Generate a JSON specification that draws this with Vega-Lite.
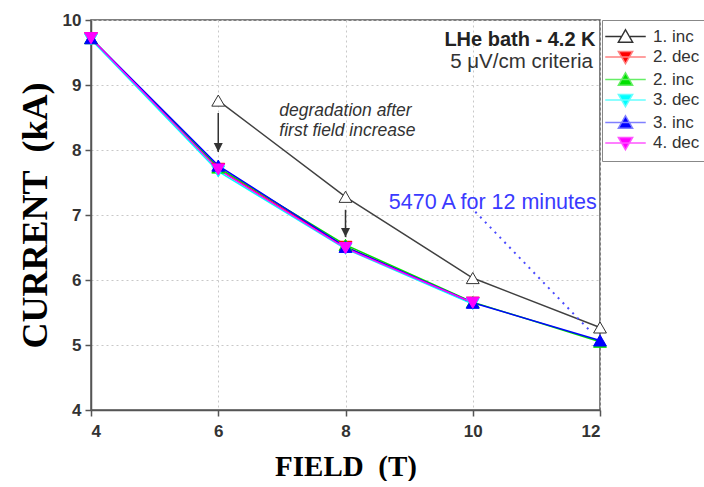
{
  "$schema": "https://vega.github.io/schema/vega-lite/v6.json",
  "width": 509,
  "height": 390,
  "autosize": {"type": "pad"},
  "padding": {"left": 17, "top": 11, "right": 0, "bottom": 0},
  "background": "white",
  "config": {
    "view": {"stroke": "#555", "strokeWidth": 1.5},
    "axis": {
      "domainColor": "#555", "domainWidth": 1.5,
      "tickColor": "#555", "tickWidth": 1.5, "tickSize": 6,
      "labelFont": "Liberation Sans", "labelFontWeight": "bold", "labelFontSize": 17, "labelColor": "#333",
      "titleFont": "Liberation Serif", "titleFontWeight": "bold", "titleColor": "#000",
      "grid": true, "gridColor": "#c8c8c8", "gridDash": [2, 3], "gridWidth": 1
    },
    "legend": {
      "orient": "none", "legendX": 511, "legendY": 0,
      "title": null,
      "strokeColor": "#888", "fillColor": "white", "padding": 8,
      "labelFont": "Liberation Sans", "labelFontSize": 17, "labelColor": "#333",
      "symbolSize": 225, "symbolOpacity": 1, "symbolStrokeWidth": 1.5,
      "symbolOffset": 7, "labelOffset": 19, "rowPadding": 1.5
    }
  },
  "datasets": {
    "curves": [
      {"series": "1. inc", "field": 6, "current": 8.76},
      {"series": "1. inc", "field": 8, "current": 7.28},
      {"series": "1. inc", "field": 10, "current": 6.03},
      {"series": "1. inc", "field": 12, "current": 5.27},
      {"series": "2. dec", "field": 4, "current": 9.72},
      {"series": "2. dec", "field": 6, "current": 7.71},
      {"series": "2. dec", "field": 8, "current": 6.51},
      {"series": "2. dec", "field": 10, "current": 5.65},
      {"series": "2. inc", "field": 4, "current": 9.72},
      {"series": "2. inc", "field": 6, "current": 7.73},
      {"series": "2. inc", "field": 8, "current": 6.54},
      {"series": "2. inc", "field": 10, "current": 5.66},
      {"series": "2. inc", "field": 12, "current": 5.05},
      {"series": "3. dec", "field": 4, "current": 9.70},
      {"series": "3. dec", "field": 6, "current": 7.67},
      {"series": "3. dec", "field": 8, "current": 6.48},
      {"series": "3. dec", "field": 10, "current": 5.63},
      {"series": "3. inc", "field": 4, "current": 9.72},
      {"series": "3. inc", "field": 6, "current": 7.76},
      {"series": "3. inc", "field": 8, "current": 6.51},
      {"series": "3. inc", "field": 10, "current": 5.65},
      {"series": "3. inc", "field": 12, "current": 5.07},
      {"series": "4. dec", "field": 4, "current": 9.72},
      {"series": "4. dec", "field": 6, "current": 7.70},
      {"series": "4. dec", "field": 8, "current": 6.49},
      {"series": "4. dec", "field": 10, "current": 5.65}
    ],
    "arrows": [
      {"field": 6, "from": 8.57, "to": 7.97},
      {"field": 8, "from": 7.08, "to": 6.66}
    ],
    "dotted": [
      {"field": 10.04, "current": 7.05, "field2": 11.86, "current2": 5.2}
    ],
    "titleNotes": [
      {"field": 11.93, "current": 9.69, "text": "LHe bath - 4.2 K"}
    ],
    "subNotes": [
      {"field": 11.89, "current": 9.35, "text": "5 μV/cm criteria"}
    ],
    "italicNotes": [
      {"field": 6.96, "current": 8.6, "text": "degradation after"},
      {"field": 6.96, "current": 8.29, "text": "first field increase"}
    ],
    "blueNotes": [
      {"field": 8.68, "current": 7.18, "text": "5470 A for 12 minutes"}
    ]
  },
  "resolve": {"scale": {"shape": "independent", "fill": "independent", "stroke": "independent"}},
  "layer": [
    {
      "data": {"name": "curves"},
      "mark": {"type": "line", "strokeWidth": 1.5},
      "encoding": {
        "x": {"field": "field", "type": "quantitative", "scale": {"domain": [4, 12], "nice": false},
              "axis": {"values": [4, 6, 8, 10, 12], "format": "d", "title": "FIELD\u00a0\u00a0(T)", "titleFontSize": 29, "labelPadding": 7, "titlePadding": 13}},
        "y": {"field": "current", "type": "quantitative", "scale": {"domain": [4, 10], "nice": false, "zero": false},
              "axis": {"values": [4, 5, 6, 7, 8, 9, 10], "format": "d", "title": "CURRENT\u00a0\u00a0(kA)", "titleFontSize": 36, "labelPadding": 4, "titlePadding": 8}},
        "stroke": {"field": "series", "type": "nominal", "legend": null,
                   "scale": {"domain": ["1. inc", "2. dec", "2. inc", "3. dec", "3. inc", "4. dec"],
                             "range": ["#404040", "#ff0000", "#00e000", "#00ffff", "#0000ff", "#ff00ff"]}}
      }
    },
    {
      "data": {"name": "arrows"},
      "mark": {"type": "rule", "color": "#333", "strokeWidth": 1.5},
      "encoding": {
        "x": {"field": "field", "type": "quantitative"},
        "y": {"field": "from", "type": "quantitative"},
        "y2": {"field": "to"}
      }
    },
    {
      "data": {"name": "arrows"},
      "mark": {"type": "point", "filled": true, "color": "#333", "opacity": 1, "size": 324,
               "shape": "M-0.5,-1L0.5,-1L0,0Z"},
      "encoding": {
        "x": {"field": "field", "type": "quantitative"},
        "y": {"field": "to", "type": "quantitative"}
      }
    },
    {
      "data": {"name": "dotted"},
      "mark": {"type": "rule", "color": "#4a4aff", "strokeWidth": 2, "strokeDash": [2, 5]},
      "encoding": {
        "x": {"field": "field", "type": "quantitative"},
        "y": {"field": "current", "type": "quantitative"},
        "x2": {"field": "field2"},
        "y2": {"field": "current2"}
      }
    },
    {
      "data": {"name": "curves"},
      "mark": {"type": "point", "filled": true, "opacity": 1, "size": 165, "strokeWidth": 1},
      "encoding": {
        "x": {"field": "field", "type": "quantitative"},
        "y": {"field": "current", "type": "quantitative"},
        "shape": {"field": "series", "type": "nominal", "legend": null,
                  "scale": {"domain": ["1. inc", "2. dec", "2. inc", "3. dec", "3. inc", "4. dec"],
                            "range": ["triangle-up", "triangle-down", "triangle-up", "triangle-down", "triangle-up", "triangle-down"]}},
        "fill": {"field": "series", "type": "nominal", "legend": null,
                 "scale": {"domain": ["1. inc", "2. dec", "2. inc", "3. dec", "3. inc", "4. dec"],
                           "range": ["#ffffff", "#ff0000", "#00e000", "#00ffff", "#0000ff", "#ff00ff"]}},
        "stroke": {"field": "series", "type": "nominal", "legend": null,
                   "scale": {"domain": ["1. inc", "2. dec", "2. inc", "3. dec", "3. inc", "4. dec"],
                             "range": ["#333333", "#ff0000", "#00e000", "#00ffff", "#0000ff", "#ff00ff"]}}
      }
    },
    {
      "data": {"name": "curves"},
      "mark": {"type": "point", "filled": true, "opacity": 0},
      "encoding": {
        "x": {"field": "field", "type": "quantitative"},
        "y": {"field": "current", "type": "quantitative"},
        "shape": {"field": "series", "type": "nominal",
                  "scale": {"domain": ["1. inc", "2. dec", "2. inc", "3. dec", "3. inc", "4. dec"],
                            "range": ["M-2.7,0H-0.6M0.6,0H2.7M0,-0.9L0.95,0.75L-0.95,0.75Z",
                                      "M-2.7,0H2.7M0,0.9L0.95,-0.75L-0.95,-0.75Z",
                                      "M-2.7,0H2.7M0,-0.9L0.95,0.75L-0.95,0.75Z",
                                      "M-2.7,0H2.7M0,0.9L0.95,-0.75L-0.95,-0.75Z",
                                      "M-2.7,0H2.7M0,-0.9L0.95,0.75L-0.95,0.75Z",
                                      "M-2.7,0H2.7M0,0.9L0.95,-0.75L-0.95,-0.75Z"]}},
        "fill": {"field": "series", "type": "nominal",
                 "scale": {"domain": ["1. inc", "2. dec", "2. inc", "3. dec", "3. inc", "4. dec"],
                           "range": ["#ffffff", "#ff0000", "#00e000", "#00ffff", "#0000ff", "#ff00ff"]}},
        "stroke": {"field": "series", "type": "nominal",
                   "scale": {"domain": ["1. inc", "2. dec", "2. inc", "3. dec", "3. inc", "4. dec"],
                             "range": ["#333333", "#ff8080", "#66ee66", "#66ffff", "#8080ff", "#ff55ff"]}}
      }
    },
    {
      "data": {"name": "titleNotes"},
      "mark": {"type": "text", "align": "right", "baseline": "middle", "font": "Liberation Sans", "fontWeight": "bold", "fontSize": 20, "color": "#222"},
      "encoding": {
        "x": {"field": "field", "type": "quantitative"},
        "y": {"field": "current", "type": "quantitative"},
        "text": {"field": "text"}
      }
    },
    {
      "data": {"name": "subNotes"},
      "mark": {"type": "text", "align": "right", "baseline": "middle", "font": "Liberation Sans", "fontSize": 20.5, "color": "#333"},
      "encoding": {
        "x": {"field": "field", "type": "quantitative"},
        "y": {"field": "current", "type": "quantitative"},
        "text": {"field": "text"}
      }
    },
    {
      "data": {"name": "italicNotes"},
      "mark": {"type": "text", "align": "left", "baseline": "middle", "font": "Liberation Sans", "fontStyle": "italic", "fontSize": 17.5, "color": "#333"},
      "encoding": {
        "x": {"field": "field", "type": "quantitative"},
        "y": {"field": "current", "type": "quantitative"},
        "text": {"field": "text"}
      }
    },
    {
      "data": {"name": "blueNotes"},
      "mark": {"type": "text", "align": "left", "baseline": "middle", "font": "Liberation Sans", "fontSize": 21.5, "color": "#3a3aff"},
      "encoding": {
        "x": {"field": "field", "type": "quantitative"},
        "y": {"field": "current", "type": "quantitative"},
        "text": {"field": "text"}
      }
    }
  ]
}
